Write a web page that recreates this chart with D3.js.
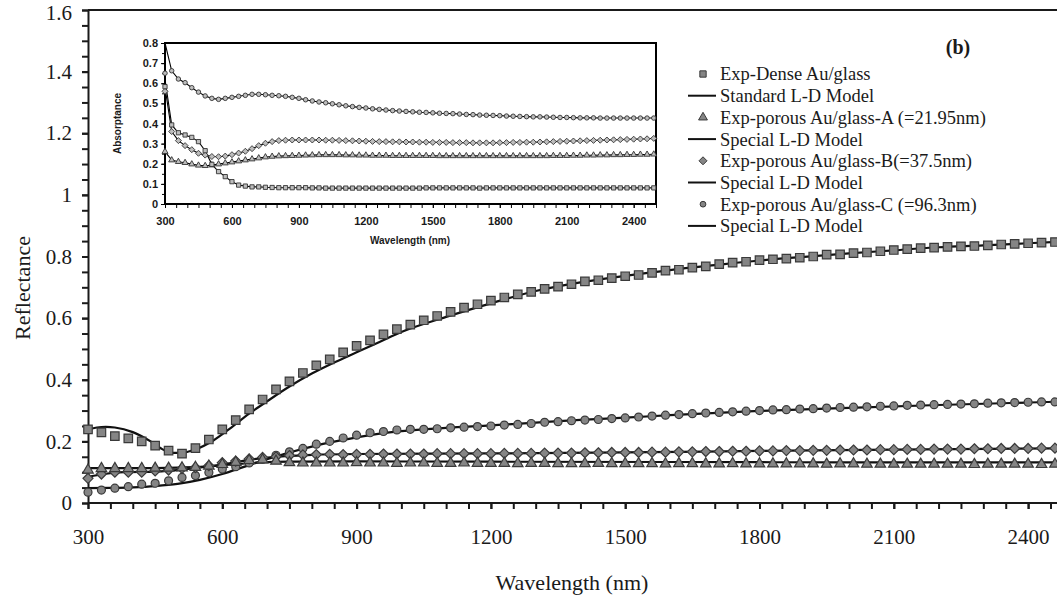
<!DOCTYPE html>
<html>
<head>
<meta charset="utf-8">
<script src="https://cdn.jsdelivr.net/npm/d3@7"></script>
<style>
html,body{margin:0;padding:0;background:#fff;}
svg{display:block;}
</style>
</head>
<body>
<svg id="chart" width="1057" height="601"></svg>
<script>
// ---------------- DATA ----------------
const expStart = 300, expStep = 30;
const xTickLabels = ["300","600","900","1200","1500","1800","2100","2400"];
const yTickLabels = ["0","0.2","0.4","0.6","0.8","1","1.2","1.4","1.6"];
const insetXTickLabels = ["300","600","900","1200","1500","1800","2100","2400"];
const insetYTickLabels = ["0","0.1","0.2","0.3","0.4","0.5","0.6","0.7","0.8"];

// Reflectance, experimental (every 30 nm from 300 nm)
const expDense = [0.239,0.229,0.217,0.210,0.200,0.186,0.170,0.160,0.178,0.206,
  0.239,0.269,0.304,0.336,0.369,0.395,0.422,0.447,0.466,0.489,
  0.510,0.528,0.547,0.564,0.579,0.593,0.607,0.620,0.634,0.645,
  0.657,0.667,0.677,0.685,0.695,0.702,0.710,0.719,0.723,0.730,
  0.736,0.740,0.747,0.754,0.757,0.764,0.768,0.775,0.780,0.783,
  0.788,0.791,0.793,0.796,0.800,0.806,0.807,0.811,0.813,0.817,
  0.821,0.824,0.827,0.829,0.831,0.833,0.834,0.836,0.839,0.841,
  0.843,0.845,0.847];
const expA = [0.107,0.112,0.112,0.112,0.112,0.113,0.113,0.114,0.116,0.120,
  0.125,0.132,0.138,0.140,0.136,0.131,0.130,0.130,0.130,0.130,
  0.131,0.130,0.130,0.129,0.130,0.130,0.129,0.129,0.130,0.129,
  0.129,0.129,0.128,0.129,0.129,0.128,0.128,0.128,0.129,0.128,
  0.128,0.128,0.128,0.127,0.128,0.128,0.127,0.127,0.128,0.127,
  0.127,0.127,0.127,0.127,0.127,0.126,0.127,0.127,0.126,0.126,
  0.126,0.126,0.126,0.126,0.126,0.126,0.125,0.126,0.126,0.126,
  0.126,0.125,0.126];
const expB = [0.080,0.094,0.100,0.100,0.100,0.104,0.107,0.112,0.115,0.121,
  0.131,0.136,0.143,0.148,0.150,0.154,0.156,0.157,0.158,0.157,
  0.158,0.158,0.159,0.159,0.159,0.159,0.160,0.160,0.160,0.160,
  0.160,0.161,0.161,0.161,0.162,0.162,0.162,0.163,0.163,0.164,
  0.164,0.164,0.165,0.165,0.166,0.166,0.167,0.167,0.168,0.168,
  0.169,0.169,0.170,0.170,0.171,0.171,0.172,0.172,0.172,0.173,
  0.173,0.174,0.174,0.175,0.175,0.175,0.176,0.176,0.177,0.177,
  0.177,0.178,0.178];
const expC = [0.035,0.042,0.048,0.053,0.061,0.064,0.072,0.083,0.089,0.099,
  0.110,0.118,0.130,0.142,0.155,0.166,0.177,0.191,0.200,0.211,
  0.220,0.228,0.232,0.237,0.239,0.239,0.241,0.244,0.246,0.248,
  0.250,0.253,0.255,0.258,0.262,0.264,0.267,0.269,0.271,0.274,
  0.276,0.279,0.282,0.285,0.287,0.290,0.292,0.294,0.296,0.298,
  0.300,0.302,0.303,0.305,0.306,0.308,0.310,0.311,0.312,0.314,
  0.315,0.317,0.318,0.319,0.320,0.321,0.322,0.324,0.325,0.326,
  0.327,0.328,0.328];

// Model curves [wavelength, reflectance]
const modelDense = [[300,0.239],[320,0.245],[340,0.247],[360,0.245],[400,0.230],[440,0.200],[470,0.172],[490,0.163],[510,0.163],[540,0.174],[580,0.203],[620,0.245],[660,0.290],[700,0.330],[750,0.378],[800,0.420],[850,0.456],[900,0.489],[950,0.522],[1000,0.555],[1100,0.604],[1200,0.648],[1300,0.688],[1400,0.716],[1500,0.737],[1600,0.756],[1700,0.772],[1800,0.787],[1900,0.799],[2000,0.810],[2100,0.820],[2200,0.830],[2300,0.836],[2400,0.843],[2500,0.850]];
const modelA = [[300,0.113],[400,0.113],[500,0.115],[560,0.118],[620,0.125],[680,0.131],[750,0.134],[900,0.135],[1200,0.134],[1600,0.133],[2000,0.132],[2500,0.132]];
const modelB = [[300,0.085],[340,0.095],[380,0.100],[450,0.102],[520,0.110],[600,0.125],[660,0.140],[720,0.150],[800,0.156],[900,0.159],[1200,0.161],[1500,0.164],[1800,0.169],[2100,0.173],[2500,0.178]];
const modelC = [[300,0.048],[350,0.049],[400,0.051],[450,0.055],[500,0.062],[550,0.075],[600,0.094],[650,0.118],[700,0.142],[750,0.164],[800,0.183],[850,0.199],[900,0.213],[1000,0.233],[1100,0.244],[1200,0.252],[1300,0.261],[1400,0.270],[1500,0.277],[1600,0.285],[1800,0.299],[2000,0.309],[2200,0.318],[2400,0.326],[2500,0.330]];

// Inset absorptance (every 30 nm from 300 nm)
const insC = [0.650,0.662,0.621,0.603,0.578,0.556,0.537,0.525,0.520,0.525,
  0.530,0.535,0.540,0.545,0.545,0.543,0.540,0.538,0.535,0.530,
  0.525,0.518,0.512,0.507,0.503,0.498,0.493,0.488,0.484,0.480,
  0.477,0.473,0.470,0.467,0.464,0.462,0.460,0.458,0.456,0.455,
  0.453,0.451,0.450,0.449,0.447,0.445,0.444,0.442,0.441,0.440,
  0.439,0.437,0.436,0.435,0.434,0.433,0.433,0.432,0.431,0.430,
  0.430,0.429,0.428,0.428,0.428,0.427,0.427,0.427,0.427,0.427,
  0.427,0.427,0.427,0.427];
const insB = [0.560,0.360,0.315,0.290,0.270,0.252,0.243,0.236,0.235,0.238,
  0.245,0.253,0.262,0.275,0.290,0.302,0.310,0.315,0.317,0.318,
  0.318,0.318,0.318,0.318,0.317,0.317,0.316,0.315,0.314,0.313,
  0.312,0.311,0.310,0.310,0.309,0.309,0.308,0.308,0.307,0.307,
  0.306,0.306,0.306,0.305,0.305,0.305,0.304,0.304,0.304,0.304,
  0.305,0.305,0.306,0.306,0.307,0.307,0.308,0.309,0.310,0.311,
  0.312,0.313,0.314,0.315,0.316,0.317,0.318,0.319,0.320,0.321,
  0.322,0.323,0.324,0.326];
const insA = [0.260,0.218,0.210,0.205,0.198,0.192,0.190,0.193,0.198,0.203,
  0.208,0.213,0.218,0.223,0.228,0.233,0.236,0.238,0.239,0.240,
  0.241,0.242,0.243,0.244,0.244,0.244,0.244,0.243,0.243,0.242,
  0.242,0.241,0.241,0.241,0.240,0.240,0.240,0.240,0.240,0.240,
  0.240,0.239,0.239,0.239,0.239,0.239,0.239,0.239,0.239,0.239,
  0.239,0.239,0.239,0.239,0.239,0.239,0.239,0.239,0.240,0.240,
  0.240,0.241,0.241,0.242,0.242,0.243,0.243,0.244,0.244,0.245,
  0.245,0.246,0.246,0.247];
const insDense = [0.583,0.393,0.354,0.343,0.331,0.310,0.265,0.197,0.161,0.136,
  0.111,0.094,0.089,0.085,0.085,0.083,0.082,0.081,0.081,0.081,
  0.081,0.081,0.080,0.080,0.079,0.079,0.079,0.079,0.079,0.079,
  0.079,0.079,0.079,0.079,0.079,0.079,0.079,0.079,0.079,0.080,
  0.080,0.080,0.080,0.080,0.080,0.080,0.080,0.079,0.080,0.080,
  0.080,0.080,0.080,0.080,0.080,0.080,0.080,0.080,0.080,0.080,
  0.080,0.080,0.080,0.080,0.080,0.080,0.080,0.080,0.080,0.080,
  0.080,0.080,0.080,0.080];
// starting values of the inset lines at 300 nm
const insLineStart = {C:0.80, B:0.58, A:0.26, D:0.62};

const legendLabels = ["Exp-Dense Au/glass","Standard L-D Model","Exp-porous Au/glass-A (=21.95nm)","Special L-D Model",
  "Exp-porous Au/glass-B(=37.5nm)","Special L-D Model","Exp-porous Au/glass-C (=96.3nm)","Special L-D Model"];

// ---------------- DRAW ----------------
const svg = d3.select("#chart");
svg.append("rect").attr("width",1057).attr("height",601).attr("fill","#fff");

const serif = "'Liberation Serif','Times New Roman',serif";
const sans = "'Liberation Sans',Arial,sans-serif";
const ink = "#1a1a1a";

const x = d3.scaleLinear().domain([300,2500]).range([88, 88 + 2200*134.3/300]);
const y = d3.scaleLinear().domain([0,1.6]).range([503, 10]);

const toPts = arr => arr.map((v,i)=>[expStart + i*expStep, v]);

// rotated-square diamond symbol
const symDiamond45 = {draw(ctx, size){ const r = Math.sqrt(size/2); ctx.moveTo(0,-r); ctx.lineTo(r,0); ctx.lineTo(0,r); ctx.lineTo(-r,0); ctx.closePath(); }};

// frame line on top
svg.append("line").attr("x1",x(300)).attr("x2",1057).attr("y1",y(1.6)).attr("y2",y(1.6))
  .attr("stroke",ink).attr("stroke-width",2);

// axes
const gx = svg.append("g").attr("transform",`translate(0,${y(0)})`);
gx.call(d3.axisBottom(x).tickValues(d3.range(300,2501,50)).tickSize(6).tickSizeOuter(0).tickFormat(""));
gx.select(".domain").attr("stroke",ink).attr("stroke-width",2).attr("d",`M${x(300)},0H1057`);
gx.selectAll(".tick line").attr("stroke",ink).attr("stroke-width",2);
const gxl = svg.append("g").attr("transform",`translate(0,${y(0)})`);
gxl.call(d3.axisBottom(x).tickValues(xTickLabels.map(Number)).tickSize(6).tickPadding(20).tickFormat((d,i)=>xTickLabels[i]));
gxl.select(".domain").remove();
gxl.selectAll(".tick line").attr("stroke",ink).attr("stroke-width",2);
gxl.selectAll("text").attr("font-family",serif).attr("font-size",21).attr("fill",ink);

const gy = svg.append("g").attr("transform",`translate(${x(300)},0)`);
gy.call(d3.axisLeft(y).tickValues(d3.range(0,1.6001,0.05)).tickSize(6).tickSizeOuter(0).tickFormat(""));
gy.select(".domain").attr("stroke",ink).attr("stroke-width",2);
gy.selectAll(".tick line").attr("stroke",ink).attr("stroke-width",2);
const gyl = svg.append("g").attr("transform",`translate(${x(300)},0)`);
gyl.call(d3.axisLeft(y).tickValues(yTickLabels.map(Number)).tickSize(6).tickPadding(10).tickFormat((d,i)=>yTickLabels[i]));
gyl.select(".domain").remove();
gyl.selectAll(".tick line").attr("stroke",ink).attr("stroke-width",2);
gyl.selectAll("text").attr("font-family",serif).attr("font-size",21).attr("fill",ink);
// keep the top label fully inside the picture
gyl.selectAll(".tick").filter(d=>d===1.6).select("text").attr("dy","0.45em");

svg.append("text").attr("transform","translate(30,288) rotate(-90)").attr("text-anchor","middle")
  .attr("font-family",serif).attr("font-size",22).attr("fill",ink).text("Reflectance");
svg.append("text").attr("x",572).attr("y",590).attr("text-anchor","middle")
  .attr("font-family",serif).attr("font-size",22).attr("fill",ink).text("Wavelength (nm)");

// plot group clipped
svg.append("clipPath").attr("id","clipMain").append("rect").attr("x",x(300)-8).attr("y",0).attr("width",1057).attr("height",y(0));
const plot = svg.append("g").attr("clip-path","url(#clipMain)");

const lineMain = d3.line().x(d=>x(d[0])).y(d=>y(d[1])).curve(d3.curveMonotoneX);
[modelDense, modelA, modelB, modelC].forEach(m=>{
  plot.append("path").attr("d",lineMain(m)).attr("fill","none").attr("stroke","#111").attr("stroke-width",2.2);
});

const mFill = "#858585", mStroke = "#3a3a3a";
const series = [
  {data: expC, sym: d3.symbolCircle, size: 50},
  {data: expB, sym: symDiamond45, size: 50},
  {data: expA, sym: d3.symbolTriangle, size: 48},
  {data: expDense, sym: d3.symbolSquare, size: 72},
];
series.forEach(s=>{
  plot.append("g").selectAll("path").data(toPts(s.data)).join("path")
    .attr("transform",d=>`translate(${x(d[0])},${y(d[1])})`)
    .attr("d",d3.symbol().type(s.sym).size(s.size))
    .attr("fill",mFill).attr("stroke",mStroke).attr("stroke-width",1.2);
});

// legend
const lg = svg.append("g");
const ly0 = 74, ldy = 21.7;
const legendSyms = [d3.symbolSquare,null,d3.symbolTriangle,null,symDiamond45,null,d3.symbolCircle,null];
const legendSizes = [40,0,34,0,32,0,26,0];
legendLabels.forEach((t,i)=>{
  const yy = ly0 + i*ldy;
  if(legendSyms[i]){
    lg.append("path").attr("transform",`translate(703,${yy})`)
      .attr("d",d3.symbol().type(legendSyms[i]).size(legendSizes[i]))
      .attr("fill",mFill).attr("stroke",mStroke).attr("stroke-width",1);
  } else {
    lg.append("line").attr("x1",688).attr("x2",716).attr("y1",yy).attr("y2",yy).attr("stroke","#111").attr("stroke-width",2);
  }
  lg.append("text").attr("x",720).attr("y",yy).attr("dy","0.35em")
    .attr("font-family",serif).attr("font-size",18.5).attr("fill",ink).text(t);
});
svg.append("text").attr("x",958).attr("y",47).attr("dy","0.35em").attr("text-anchor","middle")
  .attr("font-family",serif).attr("font-weight","bold").attr("font-size",20).attr("fill",ink).text("(b)");

// ---------------- INSET ----------------
const ix = d3.scaleLinear().domain([300,2500]).range([165,656]);
const iy = d3.scaleLinear().domain([0,0.8]).range([204,43]);
const inset = svg.append("g");
inset.append("rect").attr("x",ix(300)).attr("y",iy(0.8)).attr("width",ix(2500)-ix(300)).attr("height",iy(0)-iy(0.8))
  .attr("fill","#fff").attr("stroke","#000").attr("stroke-width",2);

const igx = inset.append("g").attr("transform",`translate(0,${iy(0)})`);
igx.call(d3.axisBottom(ix).tickValues(d3.range(300,2501,50)).tickSize(4).tickSizeOuter(0).tickFormat(""));
igx.select(".domain").remove();
igx.selectAll(".tick line").attr("stroke","#000").attr("stroke-width",1);
const igxl = inset.append("g").attr("transform",`translate(0,${iy(0)})`);
igxl.call(d3.axisBottom(ix).tickValues(insetXTickLabels.map(Number)).tickSize(4).tickPadding(9).tickFormat((d,i)=>insetXTickLabels[i]));
igxl.select(".domain").remove();
igxl.selectAll(".tick line").attr("stroke","#000").attr("stroke-width",1);
igxl.selectAll("text").attr("font-family",sans).attr("font-weight","bold").attr("font-size",11).attr("fill",ink);

const igy = inset.append("g").attr("transform",`translate(${ix(300)},0)`);
igy.call(d3.axisLeft(iy).tickValues(d3.range(0,0.8001,0.05)).tickSize(3).tickSizeOuter(0).tickFormat(""));
igy.select(".domain").remove();
igy.selectAll(".tick line").attr("stroke","#000").attr("stroke-width",1);
const igyl = inset.append("g").attr("transform",`translate(${ix(300)},0)`);
igyl.call(d3.axisLeft(iy).tickValues(insetYTickLabels.map(Number)).tickSize(4).tickPadding(3).tickFormat((d,i)=>insetYTickLabels[i]));
igyl.select(".domain").remove();
igyl.selectAll(".tick line").attr("stroke","#000").attr("stroke-width",1);
igyl.selectAll("text").attr("font-family",sans).attr("font-weight","bold").attr("font-size",11).attr("fill",ink);

inset.append("text").attr("transform",`translate(121,${(iy(0)+iy(0.8))/2}) rotate(-90)`).attr("text-anchor","middle")
  .attr("font-family",sans).attr("font-weight","bold").attr("font-size",10).attr("fill",ink).text("Absorptance");
inset.append("text").attr("x",410).attr("y",244).attr("text-anchor","middle")
  .attr("font-family",sans).attr("font-weight","bold").attr("font-size",10).attr("fill",ink).text("Wavelength (nm)");

const lineIns = d3.line().x(d=>ix(d[0])).y(d=>iy(d[1]));
const insSeries = [
  {data: insC, start: insLineStart.C, sym: d3.symbolCircle, size: 16},
  {data: insB, start: insLineStart.B, sym: symDiamond45, size: 18},
  {data: insA, start: insLineStart.A, sym: d3.symbolTriangle, size: 16},
  {data: insDense, start: insLineStart.D, sym: d3.symbolSquare, size: 18},
];
insSeries.forEach(s=>{
  const pts = toPts(s.data);
  const lp = [[300, s.start]].concat(pts.slice(1));
  inset.append("path").attr("d",lineIns(lp)).attr("fill","none").attr("stroke","#000").attr("stroke-width",1.1);
});
insSeries.forEach(s=>{
  inset.append("g").selectAll("path").data(toPts(s.data)).join("path")
    .attr("transform",d=>`translate(${ix(d[0])},${iy(d[1])})`)
    .attr("d",d3.symbol().type(s.sym).size(s.size))
    .attr("fill","#bdbdbd").attr("stroke","#333").attr("stroke-width",0.9);
});
</script>
</body>
</html>
